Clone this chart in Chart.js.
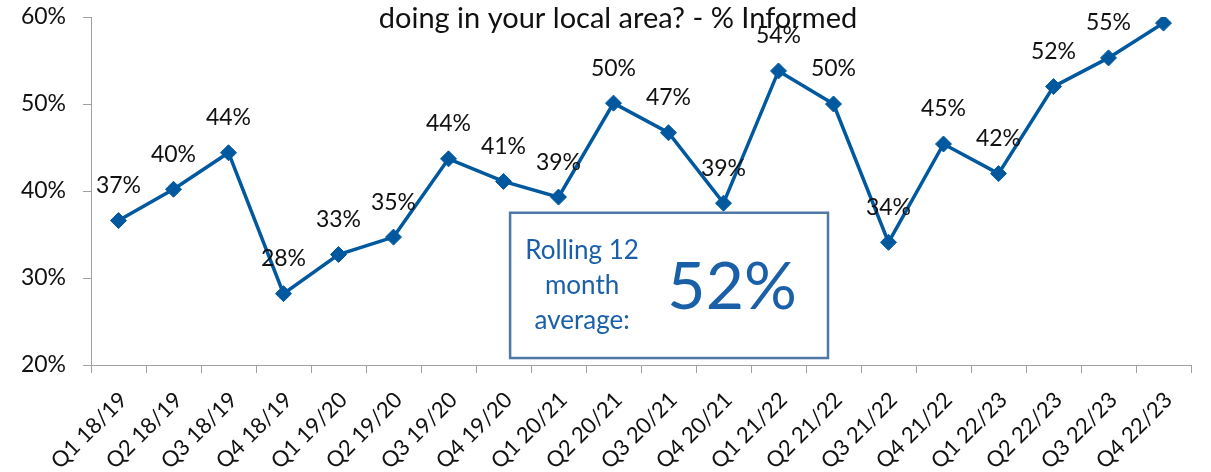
<!DOCTYPE html>
<html>
<head>
<meta charset="utf-8">
<script src="https://cdn.jsdelivr.net/npm/chart.js@4.4.1/dist/chart.umd.min.js"></script>
<style>
  html, body { margin: 0; padding: 0; background: #fff; }
  #wrap { width: 1211px; height: 472px; position: relative; }
</style>
</head>
<body>
<div id="wrap"><canvas id="informedChart"></canvas></div>
<script>
// Quarterly "% Informed" survey results
const quarters = [
    'Q1 18/19', 'Q2 18/19', 'Q3 18/19', 'Q4 18/19',
    'Q1 19/20', 'Q2 19/20', 'Q3 19/20', 'Q4 19/20',
    'Q1 20/21', 'Q2 20/21', 'Q3 20/21', 'Q4 20/21',
    'Q1 21/22', 'Q2 21/22', 'Q3 21/22', 'Q4 21/22',
    'Q1 22/23', 'Q2 22/23', 'Q3 22/23', 'Q4 22/23'
];
const informed = [
    36.6, 40.2, 44.4, 28.2,
    32.7, 34.7, 43.7, 41.1,
    39.3, 50.1, 46.7, 38.6,
    53.8, 50.0, 34.1, 45.4,
    42.0, 52.0, 55.3, 59.3
];
const yTicks = [20, 30, 40, 50, 60];
const titleText = 'doing in your local area? - % Informed';
const rollingLabel = ['Rolling 12', 'month', 'average:'];
const rollingAvg = 52;

const FONT = 'Lato, "Open Sans", sans-serif';
const LINE_BLUE = '#00599f';
const BOX_BLUE = '#1a60a8';

// Title text sitting over the top of the plot
const titlePlugin = {
    id: 'topTitle',
    afterDraw(chart) {
        const ctx = chart.ctx;
        ctx.save();
        ctx.font = '29px ' + FONT;
        ctx.fillStyle = '#111';
        ctx.textAlign = 'center';
        ctx.textBaseline = 'middle';
        ctx.fillText(titleText, 618, 19);
        ctx.restore();
    }
};

// Percentage label above each point
const valueLabels = {
    id: 'valueLabels',
    afterDatasetsDraw(chart) {
        const ctx = chart.ctx;
        const meta = chart.getDatasetMeta(0);
        ctx.save();
        ctx.font = '23px ' + FONT;
        ctx.fillStyle = '#111';
        ctx.textAlign = 'center';
        ctx.textBaseline = 'middle';
        meta.data.forEach((pt, i) => {
            ctx.fillText(Math.round(informed[i]) + '%', pt.x, pt.y - 35);
        });
        ctx.restore();
    }
};

// Boxed rolling average callout
const rollingBox = {
    id: 'rollingBox',
    afterDatasetsDraw(chart) {
        const x = chart.scales.x;
        const y = chart.scales.y;
        const left = x.getPixelForValue(7.12);
        const right = x.getPixelForValue(12.9);
        const top = y.getPixelForValue(37.5);
        const bottom = y.getPixelForValue(20.8);
        const ctx = chart.ctx;
        ctx.save();
        ctx.fillStyle = '#fff';
        ctx.fillRect(left, top, right - left, bottom - top);
        ctx.strokeStyle = '#4f78a6';
        ctx.lineWidth = 2.5;
        ctx.strokeRect(left, top, right - left, bottom - top);

        ctx.fillStyle = BOX_BLUE;
        ctx.textAlign = 'center';
        ctx.textBaseline = 'middle';
        ctx.font = '26px ' + FONT;
        const textX = left + 72;
        const midY = (top + bottom) / 2;
        rollingLabel.forEach((line, i) => {
            ctx.fillText(line, textX, midY + (i - 1) * 35);
        });
        ctx.font = '66px ' + FONT;
        ctx.fillText(rollingAvg + '%', left + 222, midY + 2);
        ctx.restore();
    }
};

new Chart(document.getElementById('informedChart'), {
    type: 'line',
    data: {
        labels: quarters,
        datasets: [{
            data: informed,
            borderColor: LINE_BLUE,
            backgroundColor: LINE_BLUE,
            borderWidth: 3.5,
            tension: 0,
            pointStyle: 'rectRot',
            pointRadius: 8,
            pointHoverRadius: 8,
            pointBackgroundColor: LINE_BLUE,
            pointBorderColor: LINE_BLUE,
            pointBorderWidth: 1
        }]
    },
    options: {
        responsive: true,
        maintainAspectRatio: false,
        animation: false,
        layout: {
            padding: { top: 17, right: 20, left: 0, bottom: 0 }
        },
        plugins: {
            legend: { display: false },
            title: { display: false },
            tooltip: { enabled: false }
        },
        scales: {
            x: {
                offset: true,
                grid: {
                    display: true,
                    offset: true,
                    drawOnChartArea: false,
                    tickLength: 8,
                    color: '#a0a0a0'
                },
                border: { color: '#a0a0a0', width: 1 },
                ticks: {
                    color: '#111',
                    font: { family: FONT, size: 22 },
                    maxRotation: 45,
                    minRotation: 45,
                    padding: 14,
                    labelOffset: 5,
                    autoSkip: false
                },
                afterFit(scale) {
                    scale.height = 107;
                    scale.paddingLeft = 0;
                    scale.paddingRight = 0;
                }
            },
            y: {
                min: 20,
                max: 60,
                afterBuildTicks(scale) {
                    scale.ticks = yTicks.map(v => ({ value: v }));
                },
                grid: {
                    display: true,
                    drawOnChartArea: false,
                    tickLength: 8,
                    color: '#a0a0a0'
                },
                border: { color: '#a0a0a0', width: 1 },
                ticks: {
                    color: '#111',
                    font: { family: FONT, size: 23 },
                    padding: 17,
                    callback: v => v + '%'
                },
                afterFit(scale) {
                    scale.width = 91;
                    scale.paddingTop = 0;
                    scale.paddingBottom = 0;
                }
            }
        }
    },
    plugins: [rollingBox, valueLabels, titlePlugin]
});
</script>
</body>
</html>
